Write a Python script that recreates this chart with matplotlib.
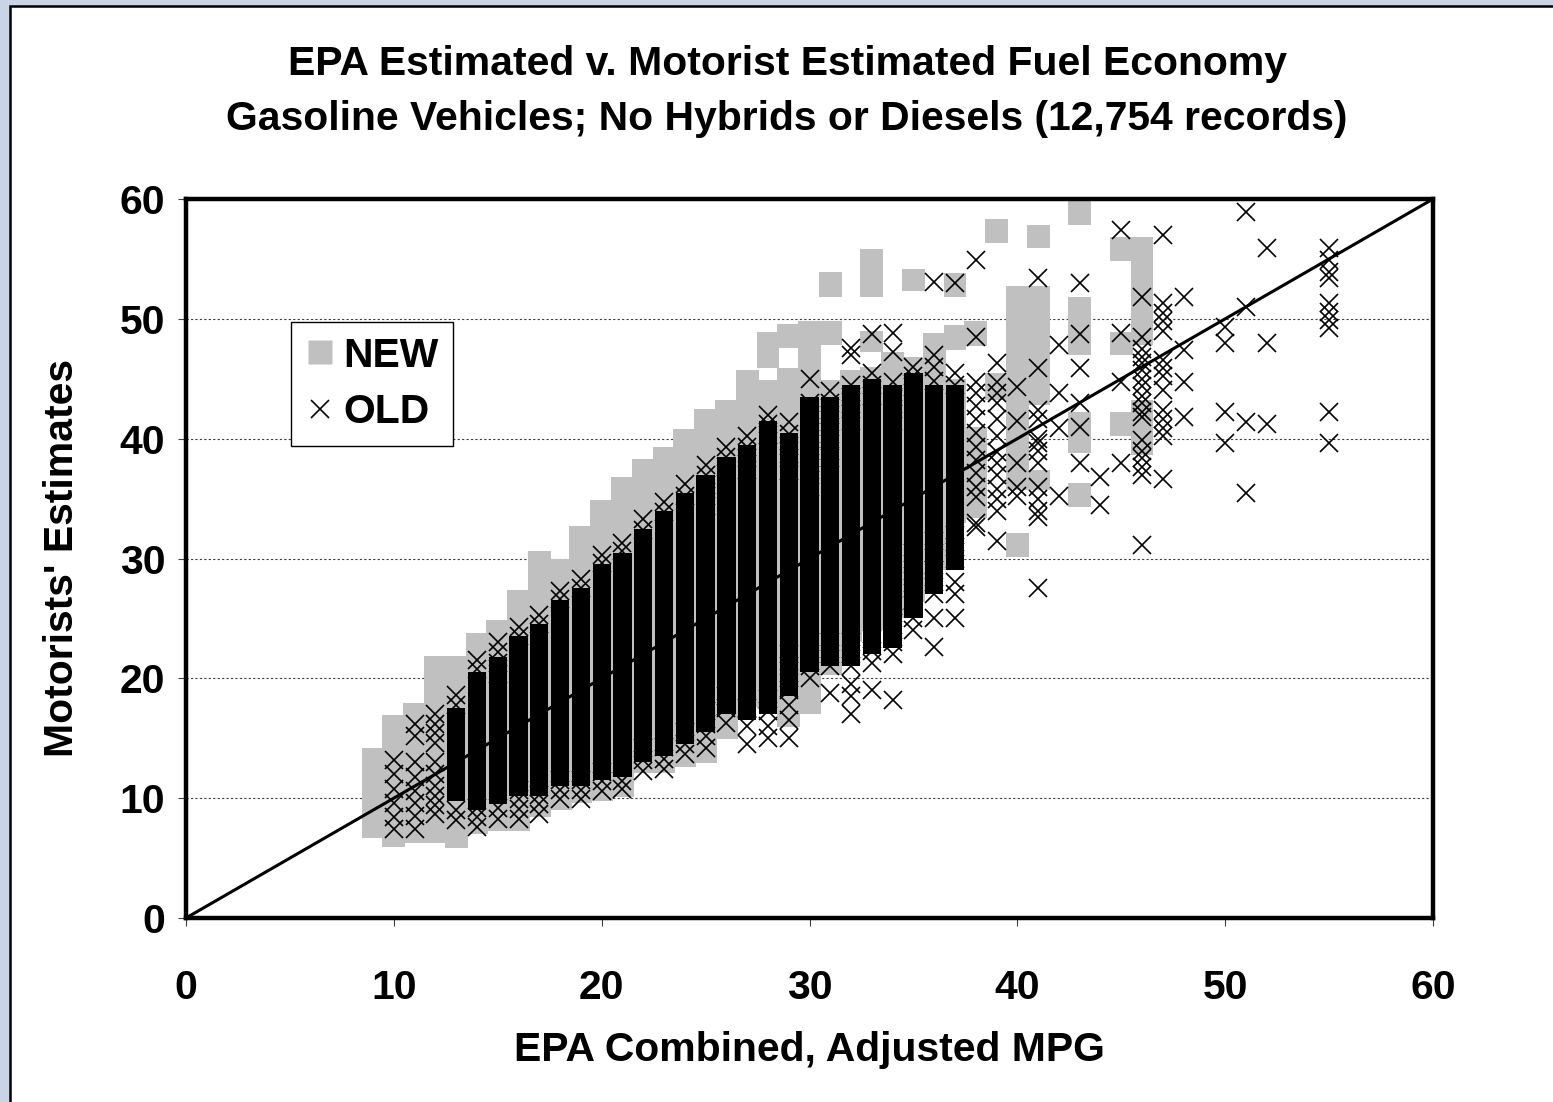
import matplotlib
matplotlib.use("Agg")
import matplotlib.pyplot as plt
from matplotlib.lines import Line2D
from matplotlib.patches import Rectangle

plt.rcParams['font.family'] = ['Liberation Sans', 'DejaVu Sans']
plt.rcParams['font.weight'] = 'bold'

# ---------------- data ----------------
title_lines = ["EPA Estimated v. Motorist Estimated Fuel Economy",
               "Gasoline Vehicles; No Hybrids or Diesels (12,754 records)"]
x_label = "EPA Combined, Adjusted MPG"
y_label = "Motorists' Estimates"
x_ticks = [0, 10, 20, 30, 40, 50, 60]
y_ticks = [0, 10, 20, 30, 40, 50, 60]
legend_labels = ["NEW", "OLD"]
diag_x = [0, 60]
diag_y = [0, 60]

# NEW records: vertical runs of grey squares (x, lowest, highest estimate)
new_x = [9, 10, 11, 12, 13, 14, 15, 16, 17, 18, 19, 20, 21, 22, 23, 24, 25, 26, 27,
         28, 28, 29, 29, 30, 31, 31, 31, 32, 33, 33, 33, 34, 35, 35, 36,
         37, 37, 37, 38, 38, 39, 39, 40, 40, 41, 41, 41, 43, 43, 43, 43, 45, 45, 45, 46, 46]
new_lo = [6.7, 5.9, 6.3, 6.3, 5.8, 7.0, 7.3, 7.3, 8.4, 9.0, 9.6, 9.8, 10.1, 12.1, 12.1, 12.6, 12.9, 14.9, 17.6,
          17.4, 45.9, 15.9, 47.6, 17.0, 20.3, 47.8, 51.8, 23.0, 24.0, 47.2, 51.8, 25.0, 26.4, 52.3, 29.0,
          33.0, 47.4, 51.8, 33.4, 47.7, 43.2, 56.3, 35.7, 30.1, 42.8, 55.9, 35.7, 47.0, 38.8, 34.3, 57.8, 54.8, 47.0, 40.2, 47.8, 38.6]
new_hi = [14.2, 16.9, 17.9, 21.9, 21.9, 23.8, 24.9, 27.4, 30.6, 30.0, 32.7, 34.9, 36.8, 38.3, 39.3, 40.8, 42.5, 43.2, 45.7,
          44.9, 48.9, 45.9, 49.6, 49.8, 44.9, 49.8, 53.9, 45.7, 46.0, 49.0, 55.8, 47.2, 46.8, 54.2, 48.8,
          45.0, 49.5, 53.8, 41.0, 49.8, 45.5, 58.3, 52.7, 32.1, 52.7, 57.8, 37.4, 51.8, 42.2, 36.3, 59.8, 56.8, 48.9, 42.2, 56.8, 43.2]

# OLD records: solid dense cores (x, lowest, highest)
core_x = [13, 14, 15, 16, 17, 18, 19, 20, 21, 22, 23, 24, 25, 26, 27, 28, 29, 30, 31, 32, 33, 34, 35, 36, 37]
core_lo = [9.8, 9.0, 9.5, 10.2, 10.2, 11.0, 11.0, 11.5, 11.8, 13.0, 13.5, 14.5, 15.5, 17.0, 16.5, 17.0,
           18.5, 20.5, 21.0, 21.0, 22.0, 22.5, 25.0, 27.0, 29.0]
core_hi = [17.5, 20.5, 21.8, 23.5, 24.5, 26.5, 27.5, 29.5, 30.5, 32.5, 34.0, 35.5, 37.0, 38.5, 39.5, 41.5,
           40.5, 43.5, 43.5, 44.5, 45.0, 44.5, 45.5, 44.5, 44.5]

# OLD records: individually visible estimates per EPA value
old_cols = [10, 11, 12, 13, 14, 15, 16, 17, 18, 19, 20, 21, 22, 23, 24, 25, 26, 27, 28, 29, 30,
            31, 32, 33, 34, 35, 36, 37, 38, 39, 40, 41, 42, 43, 44, 45, 46, 47, 48, 50, 51, 52, 55]
old_vals = [
    [13.2, 12.0, 10.8, 9.6, 8.4, 7.4],
    [16.2, 15.2, 13.0, 11.8, 10.6, 9.6, 8.5, 7.4],
    [17.0, 16.2, 15.4, 14.6, 13.0, 12.0, 11.0, 10.2, 9.4, 8.7],
    [18.6, 17.8, 9.0, 8.2],
    [21.5, 20.8, 9.2, 8.4, 7.6],
    [23.0, 22.2, 21.3, 20.4, 9.2, 8.3],
    [24.3, 23.5, 10.7, 9.9, 9.1, 8.3],
    [25.3, 24.5, 10.3, 9.5, 8.7],
    [27.3, 26.6, 11.5, 10.7, 9.9],
    [28.3, 27.5, 11.5, 10.7, 9.9],
    [30.3, 29.6, 12.2, 11.4, 10.6],
    [31.3, 30.6, 11.4, 10.8],
    [33.3, 32.4, 14.2, 13.2, 12.3],
    [34.7, 33.9, 14.3, 13.3, 12.4],
    [36.2, 35.2, 15.5, 14.5, 13.7],
    [37.8, 37.0, 36.1, 35.2, 34.4, 17.3, 16.2, 15.2, 14.2],
    [39.3, 38.5, 37.6, 18.5, 17.5, 16.3],
    [40.2, 39.3, 38.4, 37.4, 17.5, 16.0, 14.5],
    [42.0, 41.2, 40.3, 18.3, 17.3, 16.0, 15.0],
    [41.4, 40.4, 39.4, 38.4, 37.3, 22.0, 21.0, 20.0, 19.0, 17.8, 16.5, 15.0],
    [45.0, 43.0, 42.0, 41.0, 40.0, 39.0, 38.0, 37.0, 36.0, 23.0, 22.0, 21.0, 20.0],
    [44.0, 43.0, 42.0, 41.0, 40.0, 39.0, 38.4, 23.0, 22.0, 21.0, 18.8],
    [47.6, 47.0, 44.5, 43.5, 42.5, 41.5, 23.0, 22.0, 21.0, 19.5, 18.5, 17.0],
    [48.7, 45.5, 44.5, 43.6, 23.3, 22.3, 21.3, 19.0],
    [48.8, 47.2, 44.7, 43.5, 42.5, 41.5, 26.0, 25.0, 24.0, 23.0, 22.0, 18.2],
    [46.0, 45.2, 44.3, 30.5, 29.5, 28.5, 27.5, 26.5, 25.0, 24.0],
    [53.1, 47.0, 46.0, 44.8, 31.5, 30.5, 29.0, 28.0, 27.0, 25.0, 22.6],
    [53.0, 45.5, 44.5, 32.0, 31.0, 30.0, 28.0, 27.0, 25.0],
    [54.9, 48.5, 44.7, 43.8, 42.7, 41.6, 40.5, 39.3, 38.2, 37.1, 36.0, 35.1, 33.0, 32.6],
    [46.3, 44.7, 43.8, 43.0, 41.6, 40.2, 38.9, 38.0, 37.0, 35.8, 35.0, 34.0, 31.5],
    [44.3, 41.5, 38.0, 36.0, 35.2],
    [53.4, 45.9, 42.4, 41.6, 40.0, 39.6, 39.0, 38.0, 36.0, 35.0, 34.0, 33.5, 27.5],
    [47.8, 43.8, 40.9, 35.2],
    [53.0, 48.7, 45.9, 43.0, 41.0, 38.0],
    [36.8, 34.5],
    [57.4, 48.8, 44.7, 38.0],
    [51.8, 48.5, 47.5, 46.8, 46.3, 45.7, 45.0, 44.4, 43.6, 43.0, 42.2, 41.8, 39.9, 39.0, 38.4, 37.6, 37.0, 31.1],
    [57.0, 51.3, 50.5, 49.8, 49.0, 46.6, 45.9, 45.2, 44.1, 42.4, 41.6, 40.9, 40.2, 36.6],
    [51.8, 47.4, 44.7, 41.8],
    [49.3, 48.0, 42.2, 39.6],
    [58.9, 51.0, 41.4, 35.5],
    [55.9, 48.0, 41.2],
    [55.9, 54.9, 53.9, 53.4, 51.3, 50.6, 49.9, 49.2, 42.2, 39.6],
]

# ---------------- styling ----------------
W, H = 1553, 1102
DPI = 100
FS = 29.4
GREY = '#c0c0c0'

fig = plt.figure(figsize=(W / DPI, H / DPI), dpi=DPI)
fig.patch.set_facecolor('#c9d5e5')
fig.patches.append(Rectangle((9.5 / W, -0.05), 1.2, 1 - 5.5 / H + 0.05,
                             transform=fig.transFigure, facecolor='white',
                             edgecolor='black', linewidth=1.8, zorder=-5))

ax = fig.add_axes([186 / W, 1 - 918 / H, 1247 / W, 719 / H])
ax.set_zorder(2)
ax.set_facecolor('white')
ax.set_axisbelow(True)

# grey NEW runs
ax.bar(new_x, [h - l for l, h in zip(new_lo, new_hi)], bottom=new_lo, width=1.1,
       color=GREY, edgecolor='none', zorder=2)

# OLD dense cores
ax.bar(core_x, [h - l for l, h in zip(core_lo, core_hi)], bottom=core_lo, width=0.88,
       color='black', edgecolor='none', zorder=3)

# OLD individual markers
ox, oy = [], []
for c, vals in zip(old_cols, old_vals):
    ox.extend([c] * len(vals))
    oy.extend(vals)
ax.plot(ox, oy, linestyle='none', marker='x', markersize=12.5, markeredgewidth=1.2,
        color='black', zorder=4)

# diagonal
ax.plot(diag_x, diag_y, color='black', linewidth=2.2, zorder=5, clip_on=False)

ax.set_xlim(0, 60)
ax.set_ylim(0, 60)
ax.set_xticks(x_ticks)
ax.set_yticks(y_ticks)
ax.set_xticklabels([str(t) for t in x_ticks], fontsize=FS, fontweight='bold')
ax.set_yticklabels([str(t) for t in y_ticks], fontsize=FS, fontweight='bold')
ax.tick_params(axis='x', direction='out', length=6, width=0.8, color='#404040', pad=31)
ax.tick_params(axis='y', direction='out', length=6, width=0.8, color='#404040', pad=9)
ax.yaxis.grid(True, linestyle=(0, (2, 2)), color='#404040', linewidth=0.8)
for s in ax.spines.values():
    s.set_linewidth(3.2)
    s.set_color('black')
    s.set_zorder(6)

# titles and labels
fig.text(787 / W, 1 - 64 / H, title_lines[0], ha='center', va='center', fontsize=FS, fontweight='bold')
fig.text(787 / W, 1 - 119 / H, title_lines[1], ha='center', va='center', fontsize=FS, fontweight='bold')
fig.text(809 / W, 1 - 1050 / H, x_label, ha='center', va='center', fontsize=FS, fontweight='bold')
fig.text(62 / W, 1 - 558 / H, y_label, ha='center', va='center', rotation=90, fontsize=FS, fontweight='bold')

# legend
handles = [Line2D([], [], linestyle='none', marker='s', markersize=17, color=GREY, markeredgecolor='none'),
           Line2D([], [], linestyle='none', marker='x', markersize=12.5, markeredgewidth=1.2, color='black')]
leg = ax.legend(handles, legend_labels, loc='upper left',
                bbox_to_anchor=(291 / W, 1 - 322 / H), bbox_transform=fig.transFigure,
                frameon=True, fancybox=False, framealpha=1, edgecolor='black',
                borderaxespad=0, borderpad=0.36, handlelength=0.7, handletextpad=0.22,
                labelspacing=0.46, prop={'size': FS, 'weight': 'bold'})
leg.get_frame().set_linewidth(1.0)
leg.set_zorder(10)

fig.savefig('out.png', dpi=DPI, facecolor=fig.get_facecolor())
